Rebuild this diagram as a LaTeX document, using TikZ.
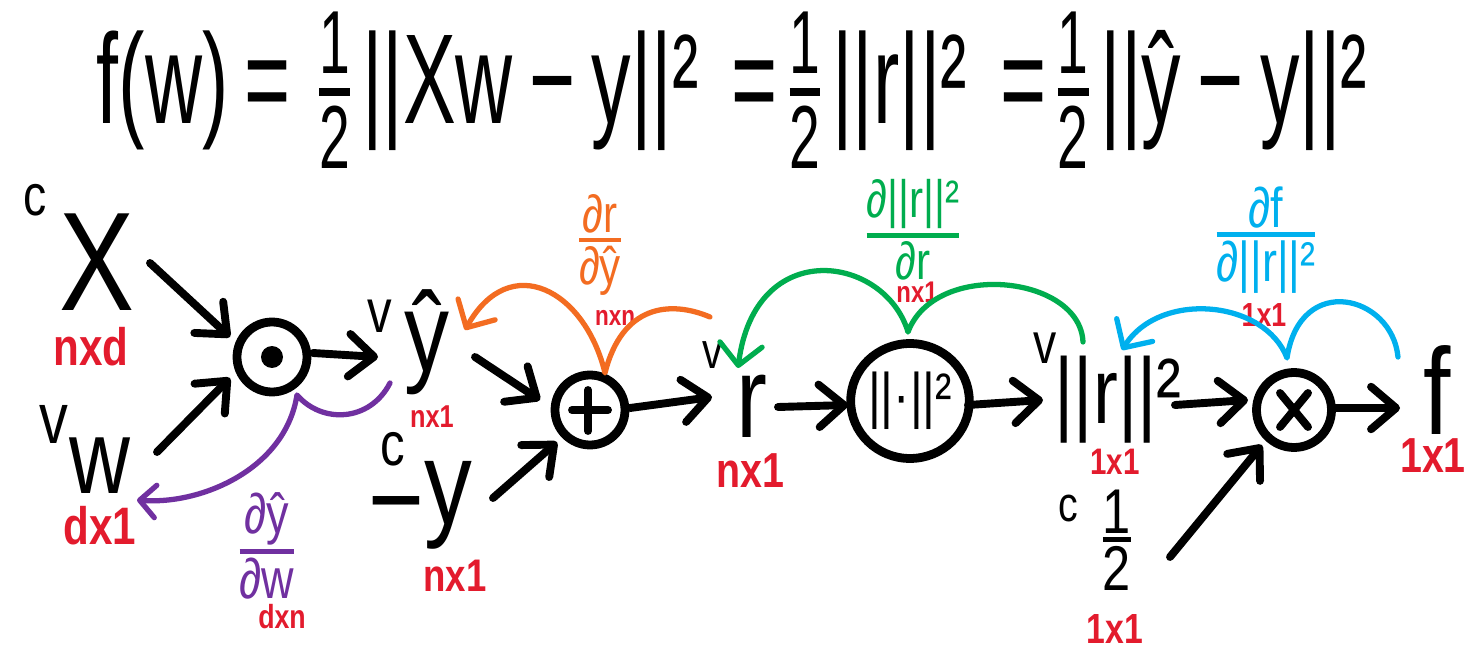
\documentclass[tikz,border=0pt]{standalone}
\usepackage{fontspec}
\usepackage{amsmath}
\usetikzlibrary{arrows.meta,calc,shapes.geometric}
\newfontfamily\hand[FakeStretch=0.8]{Liberation Sans}
\definecolor{purp}{HTML}{7030A0}
\definecolor{oran}{HTML}{F36C21}
\definecolor{gree}{HTML}{00AD4E}
\definecolor{blu}{HTML}{00B0EE}
\definecolor{dimred}{HTML}{E31B2D}
\newcommand\fs[1]{\fontsize{#1}{#1}\selectfont}
\newcommand\halfstack{$\genfrac{}{}{0.6pt}{1}{\text{1}}{\text{2}}$}
\newcommand\gfrac[3]{$\genfrac{}{}{2.5pt}{1}{\text{\fs{#1}#2}}{\text{\fs{#1}#3}}$}
\begin{document}
\begin{tikzpicture}[x=0.02cm,y=-0.02cm,
  op/.style={circle,draw,line width=5pt,minimum size=1.4cm,inner sep=0pt},
  arr/.style={line width=4.5pt,line cap=round,line join=round,-{Straight Barb[length=0.5cm,width=0.85cm,round]}},
  grad/.style={line width=3pt,line cap=round,line join=round,-{Straight Barb[length=0.42cm,width=0.85cm,round]}},
  dim/.style={text=dimred,font=\hand\bfseries\fs{#1},inner sep=0pt},
  tag/.style={font=\hand\fs{#1},inner sep=0pt},
  var/.style={font=\hand\fs{#1},inner sep=0pt},
  glabel/.style={font=\hand\fs{#1},inner sep=0pt}]
\useasboundingbox (0,0) rectangle (1468,645);
\fill[white] (0,0) rectangle (1468,645);

% title
\node[inner sep=0pt,font=\hand] (title) at (732,90)
  {\resizebox*{25.4cm}{3.12cm}{f(w)\,=\,\halfstack||Xw\,−\,y||²\,\,=\halfstack||r||²\,\,=\halfstack||ŷ\,−\,y||²}};

% operation nodes
\node[op] (dot) at (272,357) {};
\fill (dot) circle[radius=0.22cm];
\node[op] (plus) at (590,410) {};
\draw[line width=4.5pt,line cap=round] ($(plus)+(-18,0)$) -- ($(plus)+(18,0)$)
  ($(plus)+(-2,-20)$) -- ($(plus)+(-2,21)$);
\node[op,ellipse,minimum width=2.15cm,minimum height=2.3cm,font=\hand\fs{35}] (norm) at (910,401) {||·||²};
\node[op,minimum size=1.5cm] (times) at (1294,410) {};
\draw[line width=4.5pt,line cap=round] ($(times)+(-14,-17)$) -- ($(times)+(14,17)$)
  ($(times)+(14,-17)$) -- ($(times)+(-14,17)$);

% variable nodes
\node[var=80] (X) at (97,262) {X};
\node[var=60] (w) at (100,466) {w};
\node[var=64] (yhat) at (427,342) {ŷ};
\node[var=68] (my) at (420,505) {\raisebox{-0.14em}{−}y};
\node[var=66] (r) at (752,406) {r};
\node[var=53] (nr) at (1118,400) {||r||²};
\node[var=70] (f) at (1437,390) {f};
\node[glabel=36] (half) at (1117,540) {\gfrac{36}{1}{2}};

% constant / variable tags
\node[tag=33] (Xc) at (35,200) {c};
\node[tag=41] (wv) at (54,424) {v};
\node[tag=35] (yhv) at (380,316) {v};
\node[tag=35] (myc) at (393,449) {c};
\node[tag=29] (rv) at (713,355) {v};
\node[tag=33] (nrv) at (1045,348) {v};
\node[tag=28] (halfc) at (1068,509) {c};

% dimensions
\node[dim=30] (dX) at (91,347) {nxd};
\node[dim=30] (dw) at (100,526) {dx1};
\node[dim=18] (dyhat) at (432,417) {nx1};
\node[dim=26] (dmy) at (455,576) {nx1};
\node[dim=28] (dr) at (750,471) {nx1};
\node[dim=21] (dnr) at (1115,462) {1x1};
\node[dim=28] (df) at (1433,456) {1x1};
\node[dim=24] (dhalf) at (1115,629) {1x1};

% gradient labels
\node[glabel=32,text=purp] (gw) at (267,546) {\gfrac{32}{∂ŷ}{∂w}};
\node[dim=19] (dgw) at (282,617) {dxn};
\node[glabel=30,text=oran] (gy) at (600,245) {\gfrac{30}{∂r}{∂ŷ}};
\node[dim=16] (dgy) at (615,318) {nxn};
\node[glabel=30,text=gree] (gr) at (913,230) {\gfrac{30}{∂||r||²}{∂r}};
\node[dim=17] (dgr) at (917,292) {nx1};
\node[glabel=32,text=blu] (gn) at (1266,240) {\gfrac{32}{∂f}{∂||r||²}};
\node[dim=19] (dgn) at (1264,315) {1x1};

% forward arrows
\draw[arr] ($(X)+(53,1)$) -- ($(dot)+(-42,-20)$);
\draw[arr] ($(w)+(57,-14)$) -- ($(dot)+(-42,21)$);
\draw[arr] ($(dot)+(41,-4)$) -- ($(yhat)+(-49,15)$);
\draw[arr] ($(yhat)+(48,15)$) -- ($(plus)+(-50,-10)$);
\draw[arr] ($(my)+(73,-7)$) -- ($(plus)+(-33,32)$);
\draw[arr] ($(plus)+(40,-2)$) -- ($(r)+(-40,-9)$);
\draw[arr] ($(r)+(26,1)$) -- ($(norm)+(-62,4)$);
\draw[arr] ($(norm)+(58,4)$) -- ($(nr)+(-75,0)$);
\draw[arr] ($(nr)+(57,5)$) -- ($(times)+(-46,-10)$);
\draw[arr] ($(half)+(53,17)$) -- ($(times)+(-32,35)$);
\draw[arr] ($(times)+(39,-2)$) -- ($(f)+(-37,18)$);

% backward (gradient) arrows
\draw[grad,purp,-{Straight Barb[length=0.32cm,width=0.65cm,round]}]
  ($(yhat)+(-37,41)$) .. controls (370,422) and (322,424) .. ($(dot)+(25,38)$)
  .. controls (285,470) and (200,505) .. ($(w)+(37,34)$);
\draw[grad,oran]
  ($(r)+(-42,-89)$) .. controls (670,300) and (622,305) .. ($(plus)+(15,-37)$)
  .. controls (585,290) and (510,250) .. ($(yhat)+(38,-12)$);
\draw[grad,gree]
  ($(nr)+(-35,-58)$) .. controls (1080,275) and (935,260) .. ($(norm)+(-2,-69)$)
  .. controls (885,255) and (755,235) .. ($(r)+(-14,-38)$);
\draw[grad,blu]
  ($(f)+(-39,-33)$) .. controls (1392,295) and (1300,272) .. ($(times)+(-7,-52)$)
  .. controls (1265,300) and (1160,290) .. ($(nr)+(4,-50)$);
\end{tikzpicture}
\end{document}
